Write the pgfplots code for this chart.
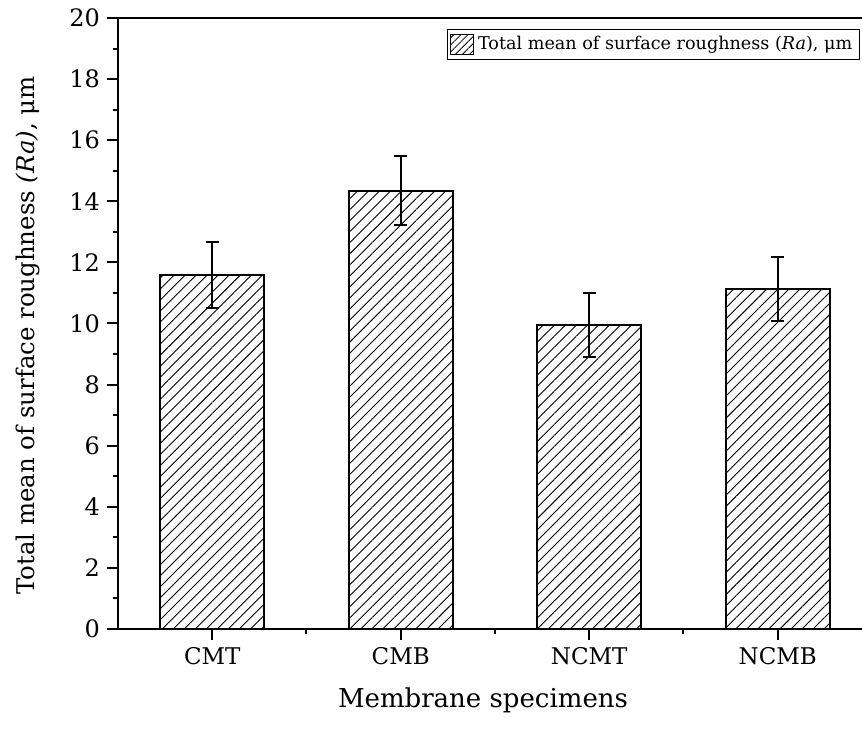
\documentclass[border=0pt]{standalone}
\usepackage{fontspec}
\setmainfont{DejaVu Serif}
\usepackage{pgfplots}
\pgfplotsset{compat=1.18}
\usetikzlibrary{patterns.meta}
\begin{document}
\begin{tikzpicture}
\begin{axis}[
    width=372pt, height=305.5pt, scale only axis,
    ybar, bar width=0.55,
    xmin=0.5, xmax=4.447,
    ymin=0, ymax=20,
    xtick={1,2,3,4},
    xticklabels={CMT,CMB,NCMT,NCMB},
    minor xtick={1.5,2.5,3.5},
    ytick={0,2,...,20},
    minor ytick={1,3,...,19},
    axis x line*=bottom, axis y line*=left,
    axis line style={line width=1pt},
    tick style={line width=1pt, black},
    tick align=outside,
    major tick length=5.5pt, minor tick length=2.7pt,
    /pgf/number format/assume math mode=true,
    yticklabel style={font=\fontsize{12}{14}\selectfont},
    xticklabel style={font=\fontsize{11.5}{14}\selectfont},
    xlabel={Membrane specimens},
    ylabel={Total mean of surface roughness \textit{(Ra)}, μm},
    xlabel style={font=\fontsize{13}{15}\selectfont,
        at={(axis description cs:0.4906,0)}, anchor=center, yshift=-35.5pt},
    ylabel style={font=\fontsize{12.2}{15}\selectfont,
        at={([xshift=-45pt,yshift=-6pt]axis description cs:0,0.5)}, anchor=center},
    legend style={at={(rel axis cs:0.997,0.982)}, anchor=north east,
        draw=black, line width=0.5pt, font=\fontsize{8.8}{10}\selectfont,
        inner sep=1.5pt, row sep=0pt},
    legend image code/.code={
        \draw[pattern={Lines[angle=45,distance=2.5pt,line width=0.4pt]}, line width=0.5pt]
        (0cm,-0.18cm) rectangle (0.4cm,0.18cm);},
    clip=false,
]
\addplot[draw=black, line width=1pt,
    pattern={Lines[angle=45,distance=3.9pt,line width=0.45pt]},
    error bars/.cd, y dir=both, y explicit,
    error bar style={line width=1pt, black},
    error mark options={rotate=90, mark size=3.2pt, line width=1pt, black}]
    coordinates {
    (1,11.60) +- (0,1.08)
    (2,14.35) +- (0,1.12)
    (3,9.96) +- (0,1.05)
    (4,11.13) +- (0,1.05)
    };
\addlegendentry{Total mean of surface roughness (\textit{Ra}), μm}
\draw[line width=1pt] (rel axis cs:0,1) -- (rel axis cs:1,1);
\coordinate (bl) at ([shift={(-59pt,-53.5pt)}]rel axis cs:0,0);
\coordinate (tr) at ([shift={(0pt,9pt)}]rel axis cs:1,1);
\end{axis}
\pgfresetboundingbox
\useasboundingbox (bl) rectangle (tr);
\end{tikzpicture}
\end{document}
